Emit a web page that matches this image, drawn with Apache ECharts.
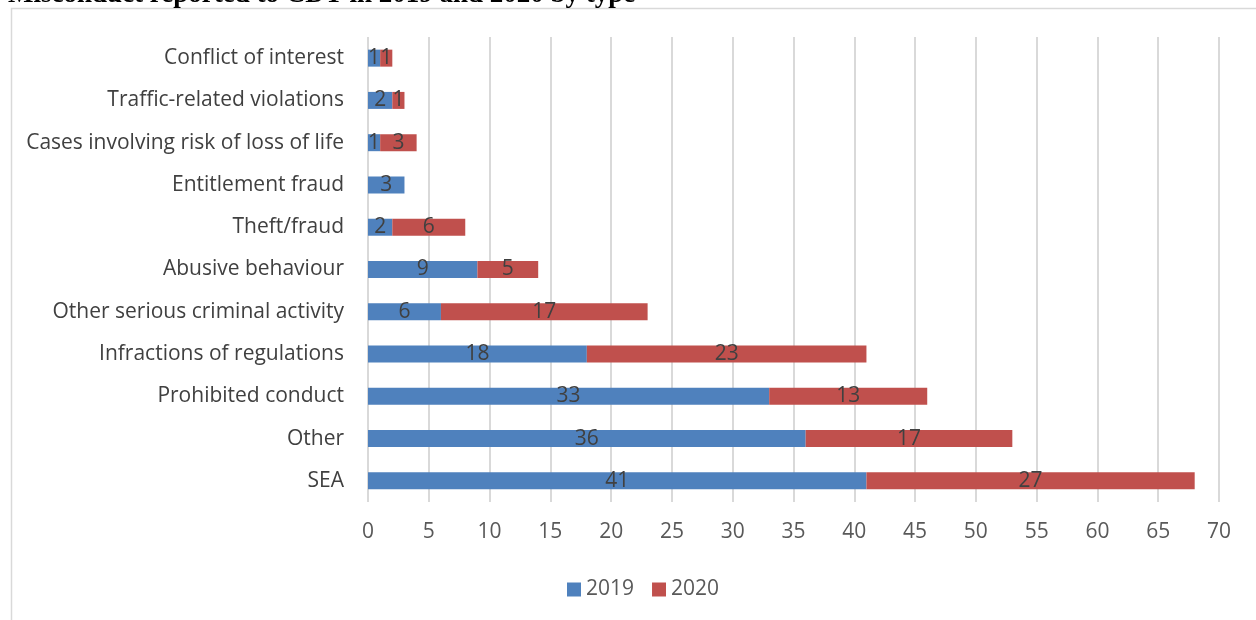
<!DOCTYPE html>
<html><head><meta charset="utf-8">
<script src="https://cdn.jsdelivr.net/npm/echarts@6/dist/echarts.min.js"></script>
<style>html,body{margin:0;padding:0;background:#fff;}#c{width:1256px;height:620px;}</style>
</head><body><div id="c"></div>
<script>
const categories = ["SEA","Other","Prohibited conduct","Infractions of regulations","Other serious criminal activity","Abusive behaviour","Theft/fraud","Entitlement fraud","Cases involving risk of loss of life","Traffic-related violations","Conflict of interest"];
const values2019 = [41,36,33,18,6,9,2,3,1,2,1];
const values2020 = [27,17,13,23,17,5,6,null,3,1,1];
const xTicks = {min:0,max:70,interval:5};
const titleText = "Misconduct reported to CDT in 2019 and 2020 by type";

const chart = echarts.init(document.getElementById('c'), null, {renderer:'canvas'});
const lbl = {show:true, position:'inside', color:'#404040', fontSize:21, fontFamily:'Open Sans', formatter: p => (p.value==null?'':p.value)};
chart.setOption({
  animation:false,
  graphic:[
    {type:'rect', shape:{x:11.5,y:8.5,width:1400,height:800}, style:{fill:'none',stroke:'#d9d9d9',lineWidth:1.5}, z:-10},
    {type:'text', left:8, top:-18, style:{text:titleText, font:'bold 27px "Liberation Serif"', fill:'#000'}}
  ],
  grid:{left:368,right:37,top:37,bottom:118},
  xAxis:{type:'value',min:xTicks.min,max:xTicks.max,interval:xTicks.interval,
    axisLine:{show:false},axisTick:{show:false},
    splitLine:{lineStyle:{color:'#d9d9d9',width:2}},
    axisLabel:{color:'#595959',fontSize:21,fontFamily:'Open Sans',margin:20}},
  yAxis:{type:'category',data:categories,axisLine:{show:false},axisTick:{show:false},
    axisLabel:{color:'#404040',fontSize:21,fontFamily:'Open Sans',margin:24}},
  legend:{top:574,left:562,itemWidth:14,itemHeight:14,itemGap:18,icon:'rect',
    textStyle:{color:'#595959',fontSize:21,fontFamily:'Open Sans'}},
  series:[
    {name:'2019',type:'bar',stack:'t',data:values2019,barWidth:17,itemStyle:{color:'#4F81BD'},label:lbl},
    {name:'2020',type:'bar',stack:'t',data:values2020,barWidth:17,itemStyle:{color:'#C0504D'},label:lbl}
  ]
});
</script></body></html>
